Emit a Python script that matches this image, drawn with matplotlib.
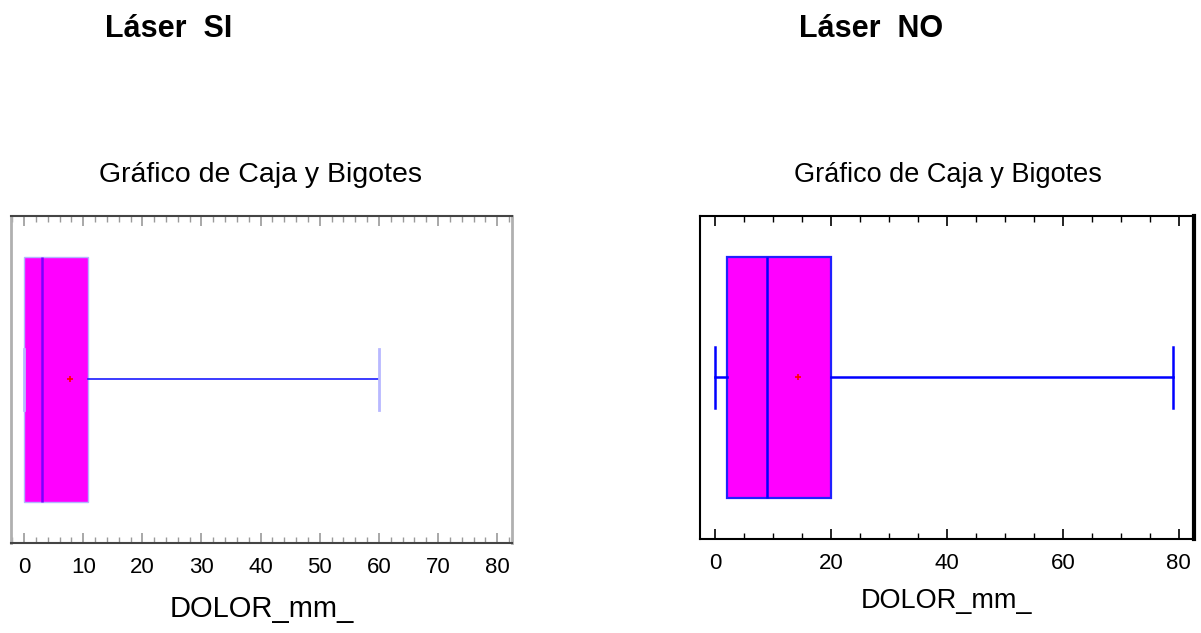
import matplotlib
matplotlib.use("Agg")
import matplotlib.pyplot as plt
from matplotlib.ticker import MultipleLocator

# DOLOR_mm_ summary per group: whiskers, quartiles, median, mean
groups = ["Láser  SI", "Láser  NO"]
whis_lo = [0, 0]
q1 = [0, 2]
medians = [3, 9]
q3 = [10.8, 20]
whis_hi = [60, 79]
means = [7.8, 14.3]

plt.rcParams["font.family"] = ["Liberation Sans", "DejaVu Sans"]

fig = plt.figure(figsize=(12.01, 6.33), dpi=100)

# panel geometry and styling
panels = [
    dict(rect=[0.0092, 0.1422, 0.4171, 0.5166], xlim=(-2.2, 82.5), major=10, minor=2,
         frame_tb="#444444", frame_lr="#b0b0b0", tick_col="#9a9a9a",
         edge="#b4b4ff", edge_lw=1.0, med="#7a00ff", whisk="#1a1aff", whisk_lw=1.2,
         cap_col="#b8b8ff", cap_lw=2.0, lr_lw=2.0, title_x=0.2165, title_fs=20.5,
         head_x=0.140, xlab_fs=21, xlab_pad=12),
    dict(rect=[0.5828, 0.1485, 0.4113, 0.5103], xlim=(-2.6, 82.6), major=20, minor=5,
         frame_tb="#000000", frame_lr="#000000", tick_col="#000000",
         edge="#2020ff", edge_lw=1.6, med="#0000ff", whisk="#0000ff", whisk_lw=1.8,
         cap_col="#0000ff", cap_lw=1.8, lr_lw=1.5, title_x=0.789, title_fs=19.5,
         head_x=0.725, xlab_fs=19.5, xlab_pad=10),
]

for i, p in enumerate(panels):
    ax = fig.add_axes(p["rect"])
    stats = [dict(whislo=whis_lo[i], q1=q1[i], med=medians[i], q3=q3[i],
                  whishi=whis_hi[i], mean=means[i], fliers=[])]
    ax.bxp(stats, positions=[1], widths=0.748, capwidths=0.187,
           orientation="horizontal", patch_artist=True, showmeans=True,
           boxprops=dict(facecolor="#ff00ff", edgecolor=p["edge"], linewidth=p["edge_lw"]),
           medianprops=dict(color=p["med"], linewidth=1.8),
           whiskerprops=dict(color=p["whisk"], linewidth=p["whisk_lw"]),
           capprops=dict(color=p["cap_col"], linewidth=p["cap_lw"]),
           meanprops=dict(marker="+", markeredgecolor="red", markersize=5, markeredgewidth=1.2))

    ax.set_xlim(*p["xlim"])
    ax.set_ylim(0.5, 1.5)
    ax.set_yticks([])
    ax.xaxis.set_major_locator(MultipleLocator(p["major"]))
    ax.xaxis.set_minor_locator(MultipleLocator(p["minor"]))
    ax.tick_params(axis="x", which="both", direction="in", top=True, bottom=True,
                   colors=p["tick_col"], labelcolor="black", labelsize=16, pad=10)
    ax.tick_params(axis="x", which="major", length=7, width=1.2)
    ax.tick_params(axis="x", which="minor", length=4, width=1.0)

    for side in ("top", "bottom"):
        ax.spines[side].set_color(p["frame_tb"])
        ax.spines[side].set_linewidth(1.5)
    for side in ("left", "right"):
        ax.spines[side].set_color(p["frame_lr"])
        ax.spines[side].set_linewidth(p["lr_lw"])
    if i == 1:
        ax.spines["right"].set_linewidth(3)

    ax.set_xlabel("DOLOR_mm_", fontsize=p["xlab_fs"], labelpad=p["xlab_pad"])

    # group heading and chart title above each panel
    fig.text(p["head_x"], 1 - 37 / 633, groups[i], weight="bold", fontsize=22,
             ha="center", va="baseline")
    fig.text(p["title_x"], 1 - 182 / 633, "Gráfico de Caja y Bigotes",
             fontsize=p["title_fs"], ha="center", va="baseline")

fig.savefig("out.png", dpi=100)
